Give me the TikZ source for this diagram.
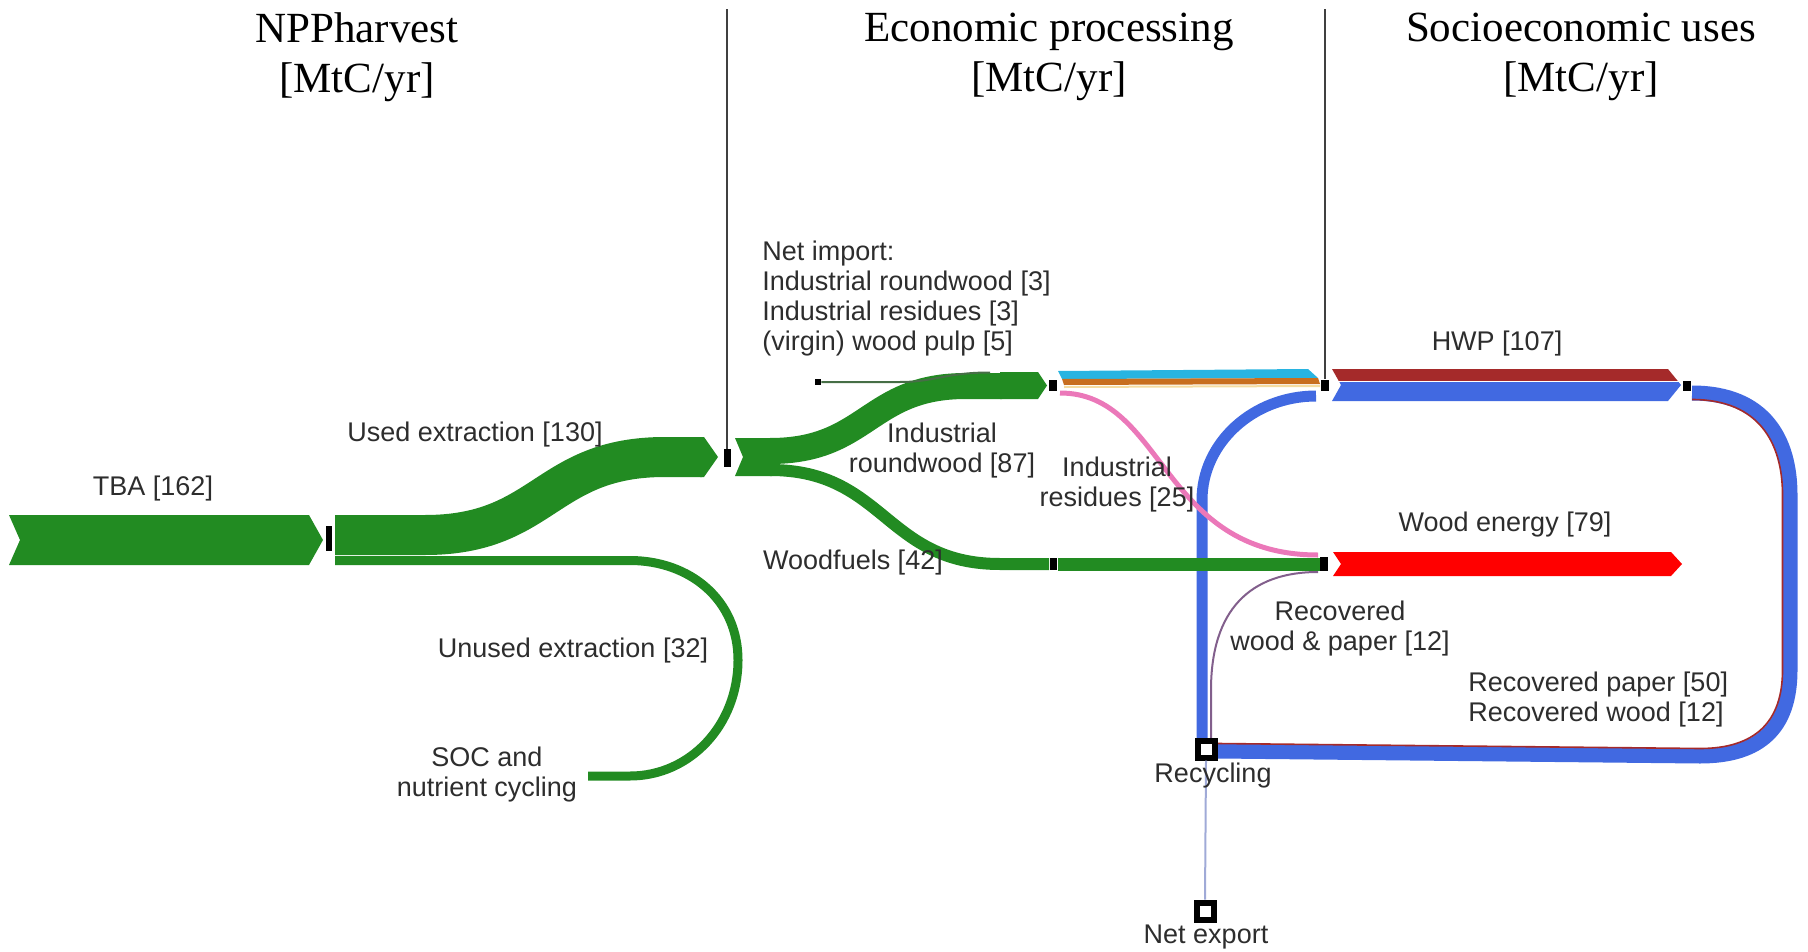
\documentclass[tikz,border=0pt]{standalone}
\usepackage{fontspec}
\setmainfont{Liberation Sans}
\newfontfamily\titlefont{Liberation Serif}
\definecolor{sgreen}{RGB}{34,139,34}
\definecolor{sblue}{RGB}{65,105,225}
\definecolor{sred}{RGB}{255,0,0}
\definecolor{sbrown}{RGB}{165,42,42}
\definecolor{scyan}{RGB}{40,180,225}
\definecolor{sorange}{RGB}{200,110,30}
\definecolor{spink}{RGB}{235,120,185}
\definecolor{spurple}{RGB}{130,95,140}
\definecolor{sthinblue}{RGB}{160,170,215}
\definecolor{sbeige}{RGB}{245,220,160}
\definecolor{netgreen}{RGB}{70,110,70}
\definecolor{txt}{RGB}{45,45,45}
% x1, x2, ytop, ybot, notch depth, tip depth, colour
\newcommand\chev[7]{\fill[#7] (#1,#3) -- ({#2-#6},#3) -- (#2,{(#3+#4)/2}) -- ({#2-#6},#4) -- (#1,#4) -- ({#1+#5},{(#3+#4)/2}) -- cycle;}
\begin{document}
\begin{tikzpicture}[x=0.5pt,y=-0.5pt,line cap=butt,
  lbl/.style={font=\fontsize{13.5}{15}\selectfont, text=txt, inner sep=0pt, align=center},
  ttl/.style={font=\titlefont\fontsize{21.5}{25}\selectfont, text=black, inner sep=0pt, align=center},
  blk/.style={fill=black, inner sep=0pt},
  hollow/.style={draw=black, fill=white, line width=3pt, inner sep=0pt, minimum size=8.5pt}]
\useasboundingbox (0,0) rectangle (1808,952);
\coordinate (top) at (0,9);

% ---------- titles ----------
\node[ttl] (t1) at (357,57) {NPPharvest\\{}[MtC/yr]};
\node[ttl] (t2) at (1049,57) {Economic processing\\{}[MtC/yr]};
\node[ttl] (t3) at (1581,57) {Socioeconomic uses\\{}[MtC/yr]};

% ---------- process nodes ----------
\node[blk, minimum width=3pt, minimum height=12.5pt] (n1) at (329,538) {};
\node[blk, minimum width=3.5pt, minimum height=9pt] (n2) at (727,458) {};
\node[blk, minimum width=4pt, minimum height=5.5pt] (n3) at (1053,385) {};
\node[blk, minimum width=3.5pt, minimum height=6pt] (n3b) at (1053,564) {};
\node[blk, minimum width=4pt, minimum height=5.5pt] (n4) at (1325,385) {};
\node[blk, minimum width=4pt, minimum height=7pt] (n5) at (1324,564) {};
\node[blk, minimum width=4pt, minimum height=5pt] (n6) at (1687,386) {};
\node[blk, minimum width=3pt, minimum height=3pt] (nimp) at (818,382) {};

% vertical separators
\draw[black!75, line width=0.7pt] (n2.north) -- (n2.north |- top);
\draw[black!75, line width=0.7pt] (n4.north) -- (n4.north |- top);

% ---------- NPP harvest ----------
\chev{9}{323}{515}{565}{11}{14}{sgreen}
\draw[sgreen, line width=20pt] (335,535) -- (425,535) .. controls (545,535) and (545,457) .. (665,457) -- (702,457);
\chev{700}{718}{437}{477}{0}{14}{sgreen}
\draw[sgreen, line width=4.5pt] (335,560.5) -- (630,560.5) .. controls (690,560.5) and (738,600) .. (738,660) .. controls (738,725) and (690,776) .. (630,776) -- (588,776);

% ---------- economic processing ----------
\chev{735}{772}{438}{476}{8}{0}{sgreen}
\draw[sgreen, line width=13pt] (770,451) .. controls (868,451) and (868,386) .. (966,386) -- (1002,386);
\chev{1000}{1047}{372}{399}{0}{9}{sgreen}
\draw[sgreen, line width=6pt] (770,470) .. controls (885,470) and (885,564) .. (1000,564) -- (1049,564);
\draw[netgreen, line width=1pt] (nimp) -- (900,382) .. controls (935,382) and (945,372.5) .. (990,372.5);

% ---------- recycling loop ----------
\draw[sblue, line width=5.5pt] (1202,742) -- (1202,500) .. controls (1202,443) and (1253,396) .. (1316,396);
\draw[sblue, line width=7.5pt] (1692,393) .. controls (1765,393) and (1790,440) .. (1790,495) -- (1790,670) .. controls (1790,728) and (1760,756) .. (1700,756) -- (1218,751);
\draw[sbrown, line width=0.8pt] (1692,399.5) .. controls (1759,399.5) and (1782.5,443) .. (1782.5,495) -- (1782.5,670) .. controls (1782.5,722) and (1755,748.5) .. (1700,748.5) -- (1218,743.5);

% woodfuels to wood energy
\draw[sgreen, line width=6.5pt] (1058,564) -- (1320,564);
% industrial residues
\draw[spink, line width=2.5pt] (1060,393) .. controls (1165,393) and (1160,555) .. (1318,555);
% HWP inputs
\fill[scyan] (1058,371) -- (1308,369) -- (1318,378) -- (1062,379) -- cycle;
\fill[sorange] (1062,379) -- (1318,378) -- (1320,384) -- (1064,385) -- cycle;
\draw[sbeige, line width=1pt] (1064,387) -- (1320,386);
% recovered wood & paper to energy
\draw[spurple, line width=1pt] (1211,738) -- (1211,690) .. controls (1211,610) and (1250,572) .. (1318,572);

% ---------- socioeconomic uses ----------
\begin{scope}
\clip (1332,369) -- (1668,369) -- (1681,385) -- (1668,401) -- (1332,401) -- (1341,385) -- cycle;
\fill[sbrown] (1320,360) rectangle (1700,380.5);
\fill[sblue] (1320,381.5) rectangle (1700,410);
\end{scope}
\chev{1333}{1682}{552}{576}{8}{11}{sred}

% recycling / export
\node[hollow] (rec) at (1206,749) {};
\node[hollow] (nexp) at (1205,911) {};
\draw[sthinblue, line width=1pt] (rec.south) -- (nexp.north);

% ---------- labels ----------
\node[lbl] (lTBA) at (153,489) {TBA [162]};
\node[lbl] (lUsed) at (475,435) {Used extraction [130]};
\node[lbl] (lUnused) at (573,651) {Unused extraction [32]};
\node[lbl] (lSOC) at (487,775) {SOC and\\nutrient cycling};
\node[lbl, align=left, anchor=west] (lImp) at (762,299) {Net import:\\Industrial roundwood [3]\\Industrial residues [3]\\(virgin) wood pulp [5]};
\node[lbl] (lIRW) at (942,451) {Industrial\\roundwood [87]};
\node[lbl] (lIR) at (1117,485) {Industrial\\residues [25]};
\node[lbl] (lWF) at (853,563) {Woodfuels [42]};
\node[lbl] (lHWP) at (1497,344) {HWP [107]};
\node[lbl] (lWE) at (1505,525) {Wood energy [79]};
\node[lbl] (lRWP) at (1340,629) {Recovered\\wood \& paper [12]};
\node[lbl, align=left, anchor=west] (lRP) at (1468,700) {Recovered paper [50]\\Recovered wood [12]};
\node[lbl] (lRec) at (1213,776) {Recycling};
\node[lbl] (lExp) at (1206,937) {Net export};
\end{tikzpicture}
\end{document}
